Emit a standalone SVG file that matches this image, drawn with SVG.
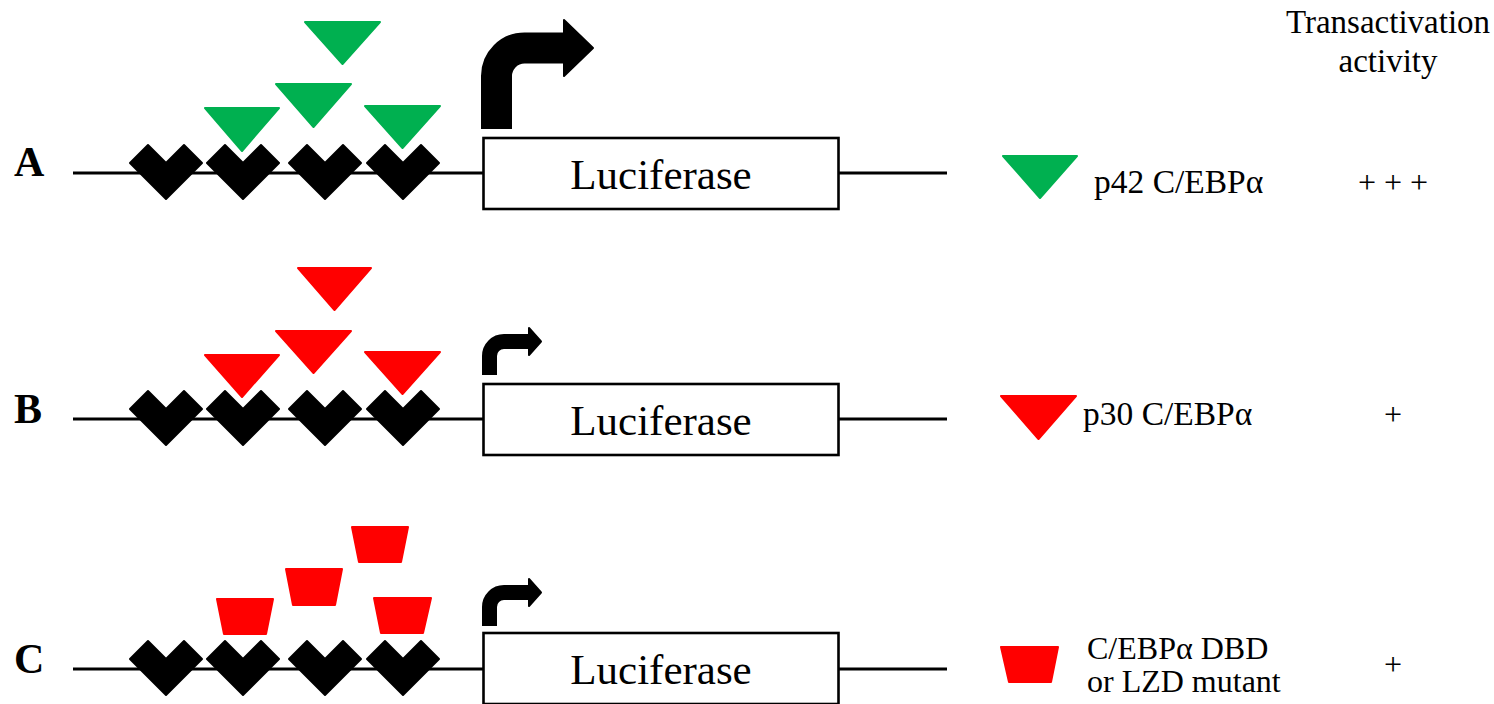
<svg xmlns="http://www.w3.org/2000/svg" width="1494" height="704" viewBox="0 0 1494 704">
<defs>
<style>
.ln{stroke:#000;stroke-width:3;fill:none}
.box{fill:#fff;stroke:#000;stroke-width:2.6}
.chev{fill:#000;stroke:#000;stroke-width:2;stroke-linejoin:round}
.g{fill:#00B050;stroke:#00B050;stroke-width:2;stroke-linejoin:round}
.r{fill:#FF0000;stroke:#FF0000;stroke-width:2;stroke-linejoin:round}
.t{font-family:"Liberation Serif","Times New Roman",serif;fill:#000}
.lbl{font-family:"Liberation Serif","Times New Roman",serif;font-weight:bold;font-size:42px;fill:#000}
.luc{font-size:43px;text-anchor:middle}
.leg{font-size:32px}
.leg2{font-size:33.5px}
.hdr{font-size:33px;text-anchor:middle}
.arrowstem{fill:none;stroke:#000}
.head{fill:#000;stroke:#000;stroke-width:2;stroke-linejoin:round}
</style>
<path id="chev" d="M-36,-10 L-18,-28 L0,-10 L18,-28 L36,-10 L0,26 Z"/>
</defs>
<rect width="1494" height="704" fill="#fff"/>

<g id="connectors">
<line class="ln" x1="73" y1="173" x2="484" y2="173"/>
<line class="ln" x1="838" y1="173" x2="947" y2="173"/>
<line class="ln" x1="73" y1="419" x2="484" y2="419"/>
<line class="ln" x1="838" y1="419" x2="947" y2="419"/>
<line class="ln" x1="73" y1="669" x2="484" y2="669"/>
<line class="ln" x1="838" y1="669" x2="947" y2="669"/>
</g>

<g id="rowA">
<text class="lbl" x="14" y="176">A</text>
<g id="A-sites">
<use href="#chev" class="chev" x="166" y="173"/>
<use href="#chev" class="chev" x="243" y="173"/>
<use href="#chev" class="chev" x="325" y="173"/>
<use href="#chev" class="chev" x="403" y="173"/>
</g>
<g id="A-proteins">
<polygon class="g" points="305,22 380,22 342.5,64"/>
<polygon class="g" points="276,84 351,84 313.5,127"/>
<polygon class="g" points="205,108 279,108 242,151"/>
<polygon class="g" points="365,106 440,106 402.5,148"/>
</g>
<g id="A-promoter">
<path class="arrowstem" stroke-width="31" d="M496.5,129 V76 A28,28 0 0 1 524.5,48 H565"/>
<polygon class="head" points="564,20 593,48 564,76"/>
</g>
<g id="A-luc">
<rect class="box" x="483.5" y="138" width="355" height="71"/>
<text class="t luc" x="661" y="189">Luciferase</text>
</g>
</g>

<g id="rowB">
<text class="lbl" x="14" y="423">B</text>
<g id="B-sites">
<use href="#chev" class="chev" x="166" y="419"/>
<use href="#chev" class="chev" x="243" y="419"/>
<use href="#chev" class="chev" x="325" y="419"/>
<use href="#chev" class="chev" x="403" y="419"/>
</g>
<g id="B-proteins">
<polygon class="r" points="298,268 371,268 334.5,310"/>
<polygon class="r" points="276,331 351,331 313.5,373"/>
<polygon class="r" points="205,355 279,355 242,397"/>
<polygon class="r" points="365,352 440,352 402.5,394"/>
</g>
<g id="B-promoter">
<path class="arrowstem" stroke-width="15" d="M489.5,375 V356 A14.5,14.5 0 0 1 504,341.5 H530"/>
<polygon class="head" points="529,328 541,341.5 529,355"/>
</g>
<g id="B-luc">
<rect class="box" x="483.5" y="384" width="355" height="71"/>
<text class="t luc" x="661" y="435">Luciferase</text>
</g>
</g>

<g id="rowC">
<text class="lbl" x="14" y="673">C</text>
<g id="C-sites">
<use href="#chev" class="chev" x="166" y="669"/>
<use href="#chev" class="chev" x="243" y="669"/>
<use href="#chev" class="chev" x="325" y="669"/>
<use href="#chev" class="chev" x="403" y="669"/>
</g>
<g id="C-proteins">
<polygon class="r" points="217,599 273,599 266,634 224,634"/>
<polygon class="r" points="286,569 342,569 335,605 293,605"/>
<polygon class="r" points="352,527 408,527 401,562 359,562"/>
<polygon class="r" points="374,598 431,598 423,633 381,633"/>
</g>
<g id="C-promoter">
<path class="arrowstem" stroke-width="15" d="M489.5,626 V607 A14.5,14.5 0 0 1 504,592.5 H530"/>
<polygon class="head" points="529,579 541,592.5 529,606"/>
</g>
<g id="C-luc">
<rect class="box" x="483.5" y="633" width="355" height="71"/>
<text class="t luc" x="661" y="684">Luciferase</text>
</g>
</g>

<g id="header">
<text class="t hdr" x="1388" y="33">Transactivation</text>
<text class="t hdr" x="1388" y="72">activity</text>
</g>

<g id="legendA">
<polygon class="g" points="1003,156 1077,156 1040,198"/>
<text class="t leg2" x="1094" y="193">p42 C/EBPα</text>
<text class="t leg" x="1393" y="193" text-anchor="middle">+ + +</text>
</g>
<g id="legendB">
<polygon class="r" points="1001,396 1076,396 1038.5,439"/>
<text class="t leg2" x="1083" y="425">p30 C/EBPα</text>
<text class="t leg" x="1393" y="425" text-anchor="middle">+</text>
</g>
<g id="legendC">
<polygon class="r" points="1001,647 1058,647 1051,682 1009,682"/>
<text class="t leg" x="1087" y="659">C/EBPα DBD</text>
<text class="t leg" x="1087" y="692">or LZD mutant</text>
<text class="t leg" x="1393" y="675" text-anchor="middle">+</text>
</g>
</svg>
